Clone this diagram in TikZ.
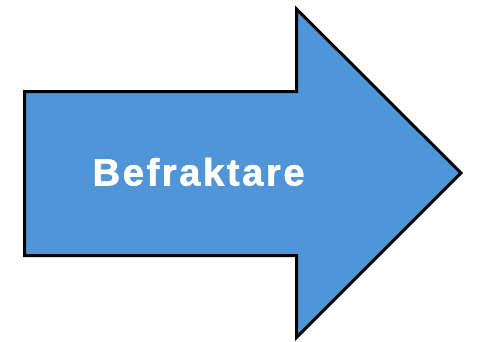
\documentclass[tikz,border=0pt]{standalone}
\usepackage{fontspec}
\setmainfont{Liberation Sans}
\definecolor{arrowblue}{HTML}{4F95D8}
\begin{document}
\begin{tikzpicture}[x=1pt,y=-1pt,
  arrowshape/.style={fill=arrowblue,draw=black,line width=3pt,line join=miter},
  label/.style={text=white,font=\fontsize{38}{40}\selectfont\bfseries\addfontfeature{LetterSpace=7,FakeBold=1.5},inner sep=0pt,anchor=base west}]
\useasboundingbox (0,0) rectangle (477,341);
\draw[arrowshape] (24.5,91.5) -- (296.5,91.5) -- (296.5,9) -- (461,173) -- (296.5,337.5) -- (296.5,255.5) -- (24.5,255.5) -- cycle;
\node[label] (t) at (92.5,185.5) {Befraktare};
\end{tikzpicture}
\end{document}
